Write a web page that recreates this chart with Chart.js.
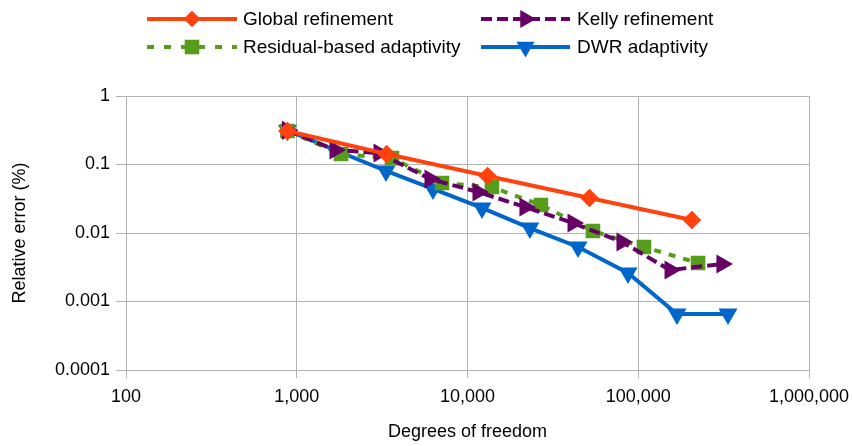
<!DOCTYPE html>
<html><head><meta charset="utf-8">
<script src="https://cdn.jsdelivr.net/npm/chart.js@4/dist/chart.umd.min.js"></script>
<style>html,body{margin:0;padding:0;background:#fff}#wrap{width:852px;height:446px;position:relative}</style>
</head><body><div id="wrap"><canvas id="c" width="852" height="446"></canvas></div>
<script>
const seriesNames = ['Global refinement', 'Kelly refinement', 'Residual-based adaptivity', 'DWR adaptivity'];
const globalDofs = [882, 3362, 13122, 51842, 206082];
const globalErr = [0.308, 0.142, 0.068, 0.0324, 0.0155];
const kellyDofs = [882, 1675, 3033, 6030, 11520, 21700, 41500, 80300, 153500, 309000];
const kellyErr = [0.315, 0.163, 0.147, 0.0614, 0.0397, 0.0240, 0.0140, 0.00739, 0.00288, 0.00353];
const residualDofs = [882, 1816, 3612, 7090, 13900, 26900, 54300, 108000, 224000];
const residualErr = [0.308, 0.142, 0.124, 0.0537, 0.0469, 0.0256, 0.0107, 0.00625, 0.00365];
const dwrDofs = [882, 3333, 6280, 12160, 23200, 44400, 87100, 168600, 335500];
const dwrErr = [0.315, 0.0804, 0.0439, 0.0232, 0.0118, 0.00625, 0.00261, 0.000657, 0.000657];
const xTicks = [100, 1000, 10000, 100000, 1000000];
const yTicks = [0.0001, 0.001, 0.01, 0.1, 1];
const xTitle = 'Degrees of freedom';
const yTitle = 'Relative error (%)';

const pts = (xs, ys) => xs.map((x, i) => ({x: x, y: ys[i]}));
const FONT = '"Liberation Sans", Arial, sans-serif';

const legendPlugin = {
  id: 'customLegend',
  afterDraw(chart) {
    const ctx = chart.ctx;
    const items = [
      {ds: 0, x1: 147, x2: 237, tx: 243, y: 19},
      {ds: 1, x1: 481, x2: 570, tx: 577, y: 19},
      {ds: 2, x1: 147, x2: 237, tx: 243, y: 47},
      {ds: 3, x1: 481, x2: 570, tx: 577, y: 47}
    ];
    items.forEach(it => {
      const ds = chart.data.datasets[it.ds];
      ctx.save();
      ctx.strokeStyle = ds.borderColor;
      ctx.lineWidth = ds.borderWidth;
      ctx.setLineDash(ds.legendDash || ds.borderDash || []);
      ctx.beginPath();
      ctx.moveTo(it.x1, it.y);
      ctx.lineTo(it.x2, it.y);
      ctx.stroke();
      ctx.setLineDash([]);
      ctx.fillStyle = ds.pointBackgroundColor;
      ctx.strokeStyle = ds.pointBorderColor;
      Chart.helpers.drawPoint(ctx, {pointStyle: ds.pointStyle, radius: ds.legendRadius, rotation: ds.pointRotation || 0, borderWidth: 1}, (it.x1 + it.x2) / 2, it.y);
      ctx.fillStyle = '#000';
      ctx.font = '19px ' + FONT;
      ctx.textBaseline = 'middle';
      ctx.textAlign = 'left';
      ctx.fillText(ds.label, it.tx, it.y + 1);
      ctx.restore();
    });
  }
};

const orange = '#ff420e', purple = '#660066', green = '#579d1c', blue = '#0066cc';

new Chart(document.getElementById('c'), {
  type: 'line',
  data: {
    datasets: [
      {label: seriesNames[0], data: pts(globalDofs, globalErr), borderColor: orange, backgroundColor: orange,
       pointBackgroundColor: orange, pointBorderColor: orange, borderWidth: 4, pointStyle: 'rectRot', pointRadius: 6.5, legendRadius: 5.5, order: 0},
      {label: seriesNames[1], data: pts(kellyDofs, kellyErr), borderColor: purple, backgroundColor: purple,
       pointBackgroundColor: purple, pointBorderColor: purple, borderWidth: 4, borderDash: [11, 5], pointStyle: 'triangle', pointRotation: 90, pointRadius: 7, legendRadius: 6.5, order: 1},
      {label: seriesNames[2], data: pts(residualDofs, residualErr), borderColor: green, backgroundColor: green,
       pointBackgroundColor: green, pointBorderColor: green, borderWidth: 4, borderDash: [7, 8], legendDash: [7, 10], pointStyle: 'rect', pointRadius: 7.5, legendRadius: 7.5, order: 2},
      {label: seriesNames[3], data: pts(dwrDofs, dwrErr), borderColor: blue, backgroundColor: blue,
       pointBackgroundColor: blue, pointBorderColor: blue, borderWidth: 4, pointStyle: 'triangle', pointRotation: 180, pointRadius: 7, legendRadius: 6.5, order: 3}
    ]
  },
  options: {
    responsive: false,
    animation: false,
    layout: {padding: {top: 96, right: 43, bottom: 0, left: 0}},
    elements: {line: {tension: 0, fill: false}, point: {borderWidth: 1, hoverRadius: 7}},
    plugins: {legend: {display: false}, tooltip: {enabled: false}},
    scales: {
      x: {
        type: 'logarithmic', min: 100, max: 1000000,
        afterBuildTicks: s => { s.ticks = xTicks.map(v => ({value: v})); },
        afterFit: s => { s.height = 76; s.paddingRight = 0; s.paddingLeft = 0; },
        ticks: {color: '#000', font: {family: FONT, size: 18}, padding: 8, autoSkip: false, maxRotation: 0,
                callback: v => Number(v).toLocaleString('en-US')},
        grid: {color: '#b3b3b3', lineWidth: 1, tickLength: 8, drawTicks: true},
        border: {color: '#b3b3b3', width: 1},
        title: {display: true, text: xTitle, color: '#000', font: {family: FONT, size: 18}, padding: {top: 0, bottom: 3}}
      },
      y: {
        type: 'logarithmic', min: 0.0001, max: 1,
        afterBuildTicks: s => { s.ticks = yTicks.map(v => ({value: v})); },
        afterFit: s => { s.width = 126; s.paddingTop = 0; s.paddingBottom = 0; },
        ticks: {color: '#000', font: {family: FONT, size: 18}, padding: 6, autoSkip: false,
                callback: v => String(v)},
        grid: {color: '#b3b3b3', lineWidth: 1, tickLength: 10, drawTicks: true},
        border: {color: '#b3b3b3', width: 1},
        title: {display: true, text: yTitle, color: '#000', font: {family: FONT, size: 18}, padding: {top: 9, bottom: 0}}
      }
    }
  },
  plugins: [legendPlugin]
});
</script>
</body></html>
